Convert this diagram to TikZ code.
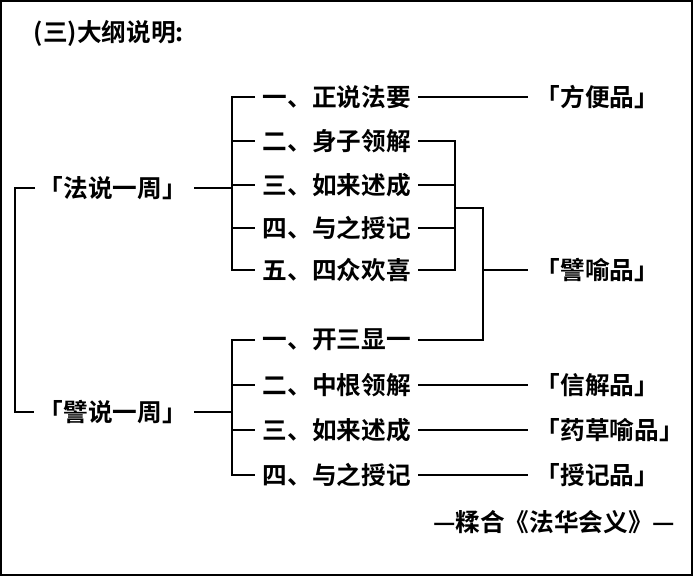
\documentclass[tikz,border=0pt]{standalone}
\usepackage{fontspec}
\newfontfamily\cjk{Noto Sans CJK SC Bold}
\begin{document}
\begin{tikzpicture}[x=0.75pt,y=-0.75pt,line width=1.2pt,
  t/.style={inner sep=0pt,font=\cjk\fontsize{18.5}{20}\selectfont,anchor=west}]
\useasboundingbox (0,0) rectangle (693,576);
\draw[line width=0.8pt] (1,1) rectangle (692,575);
\node[t] (title) at (33,33) {(三)大纲说明:};
\node[t] (fa) at (38,188) {「法说一周」};
\node[t] (pi) at (38,412) {「譬说一周」};
\node[t] (a1) at (262,97) {一、正说法要};
\node[t] (a2) at (262,141) {二、身子领解};
\node[t] (a3) at (262,185) {三、如来述成};
\node[t] (a4) at (262,228) {四、与之授记};
\node[t] (a5) at (262,270) {五、四众欢喜};
\node[t] (b1) at (262,340) {一、开三显一};
\node[t] (b2) at (262,385) {二、中根领解};
\node[t] (b3) at (262,430) {三、如来述成};
\node[t] (b4) at (262,475) {四、与之授记};
\node[t] (p1) at (535,97) {「方便品」};
\node[t] (p2) at (535,270) {「譬喻品」};
\node[t] (p3) at (535,385) {「信解品」};
\node[t] (p4) at (535,430) {「药草喻品」};
\node[t] (p5) at (535,475) {「授记品」};
\node[t,anchor=east] (src) at (676,522) {—糅合《法华会义》—};
% left bracket
\draw (fa.west)++(-3,0) -- (15,188) -- (15,412) -- ([xshift=-3]pi.west);
% upper bracket
\draw ([xshift=5]fa.east) -- (232,188);
\draw (255,97) -- (232,97) -- (232,270) -- (255,270);
\foreach \y in {141,185,228} \draw (232,\y) -- (255,\y);
\draw ([xshift=5]a1.east) -- ([xshift=-5]p1.west);
\draw ([xshift=5]a2.east) -- (455,141) -- (455,270) -- ([xshift=5]a5.east);
\draw ([xshift=5]a3.east) -- (455,185);
\draw ([xshift=5]a4.east) -- (455,228);
\draw (455,208) -- (483,208) -- (483,340) -- ([xshift=5]b1.east);
\draw (483,270) -- ([xshift=-5]p2.west);
% lower bracket
\draw ([xshift=5]pi.east) -- (232,412);
\draw (255,340) -- (232,340) -- (232,475) -- (255,475);
\foreach \y in {385,430} \draw (232,\y) -- (255,\y);
\draw ([xshift=5]b2.east) -- ([xshift=-5]p3.west);
\draw ([xshift=5]b3.east) -- ([xshift=-5]p4.west);
\draw ([xshift=5]b4.east) -- ([xshift=-5]p5.west);
\end{tikzpicture}
\end{document}
